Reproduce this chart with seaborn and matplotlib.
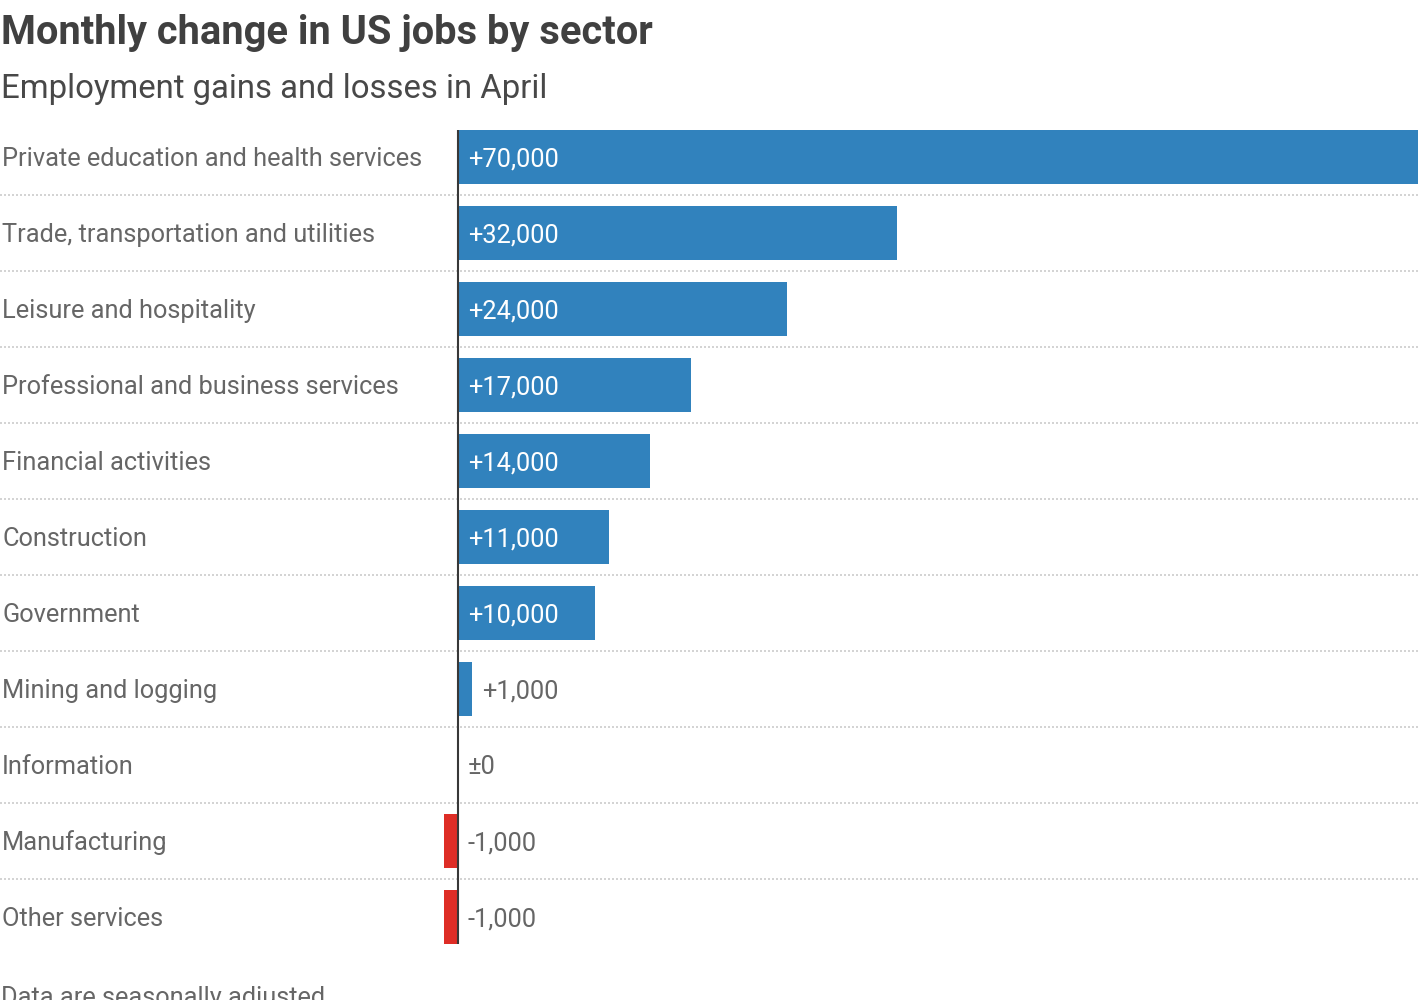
import matplotlib
matplotlib.use("Agg")
import matplotlib.pyplot as plt
import seaborn as sns
import pandas as pd

sectors = [
    "Private education and health services",
    "Trade, transportation and utilities",
    "Leisure and hospitality",
    "Professional and business services",
    "Financial activities",
    "Construction",
    "Government",
    "Mining and logging",
    "Information",
    "Manufacturing",
    "Other services",
]
changes = [70000, 32000, 24000, 17000, 14000, 11000, 10000, 1000, 0, -1000, -1000]
value_labels = ["+70,000", "+32,000", "+24,000", "+17,000", "+14,000", "+11,000",
                "+10,000", "+1,000", "\u00b10", "-1,000", "-1,000"]

title = "Monthly change in US jobs by sector"
subtitle = "Employment gains and losses in April"
footnote = "Data are seasonally adjusted"

BLUE = "#3182BD"
RED = "#DE2D26"
TXT = "#666666"

df = pd.DataFrame({"sector": sectors, "change": changes})
df["sign"] = ["neg" if v < 0 else "pos" for v in changes]

sns.set_theme(style="white")
plt.rcParams["font.family"] = ["Roboto", "DejaVu Sans"]

W, H = 1420, 1000
fig = plt.figure(figsize=(W / 100, H / 100), dpi=100)

ax_left, ax_right = 0, 1418
ax_top, ax_bot = 119, 955
ax = fig.add_axes([ax_left / W, 1 - ax_bot / H, (ax_right - ax_left) / W, (ax_bot - ax_top) / H])

px_per_unit = 960 / 70000
zero_px = 458
xmin = -(zero_px - ax_left) / px_per_unit
xmax = (ax_right - zero_px) / px_per_unit

sns.barplot(data=df, x="change", y="sector", hue="sign", orient="h",
            palette={"pos": BLUE, "neg": RED}, dodge=False, width=54 / 76,
            legend=False, ax=ax, saturation=1, linewidth=0)

n = len(sectors)
ax.set_xlim(xmin, xmax)
ax.set_ylim(n - 0.5, -0.5)
for s in ax.spines.values():
    s.set_visible(False)
ax.set_xticks([])
ax.set_yticks([])
ax.set_xlabel("")
ax.set_ylabel("")

for i in range(n - 1):
    ax.axhline(i + 0.5, color="#d4d4d4", linewidth=1.44, linestyle=(0, (1, 1)),
               dash_capstyle="butt", zorder=0)

half = 27 / 76
ax.plot([0, 0], [-half, n - 1 + half], color="#383838", linewidth=1.5, zorder=5,
        solid_capstyle="butt")

FS = 18.3
pad = 10 / px_per_unit
dy = 2 / 76
for i, (sec, v, lab) in enumerate(zip(sectors, changes, value_labels)):
    ax.text(2 / px_per_unit + xmin, i + dy, sec, ha="left", va="center",
            fontsize=FS, color=TXT, fontweight="normal")
    if v >= 5000:
        ax.text(pad, i + dy, lab, ha="left", va="center", fontsize=FS,
                color="white", fontweight="normal", zorder=6)
    else:
        xpos = max(v, 0) + pad
        ax.text(xpos, i + dy, lab, ha="left", va="center", fontsize=FS,
                color=TXT, fontweight="normal", zorder=6)

fig.text(1 / W, 1 - 33 / H, title, ha="left", va="center", fontsize=28.7,
         fontweight="bold", color="#404040")
fig.text(1 / W, 1 - 89 / H, subtitle, ha="left", va="center", fontsize=23.7,
         fontweight="normal", color="#484848")
fig.text(1 / W, 1 - 986 / H, footnote, ha="left", va="top", fontsize=FS,
         fontweight="normal", color=TXT)

fig.savefig("out.png", dpi=100)
